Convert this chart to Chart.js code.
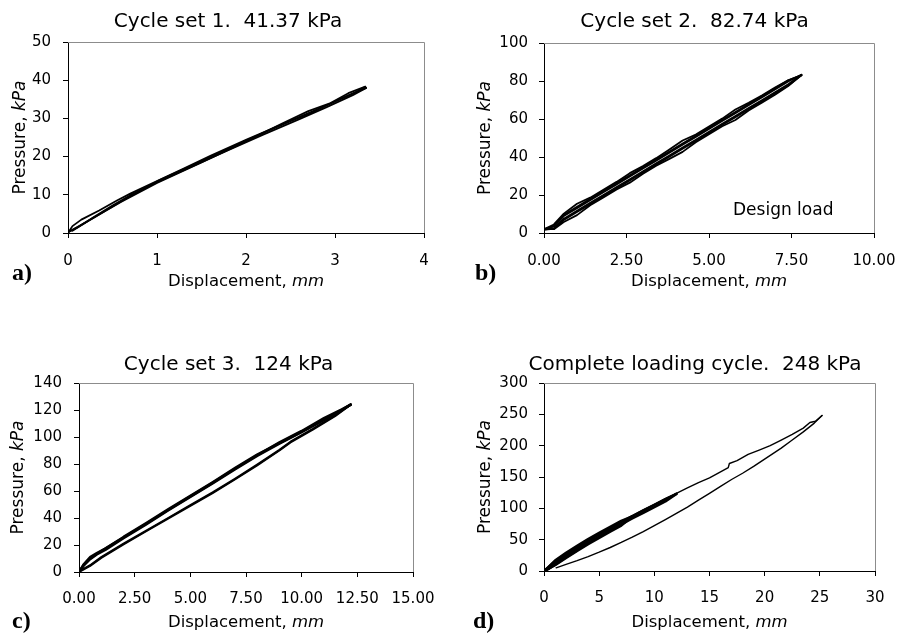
<!DOCTYPE html>
<html>
<head>
<meta charset="utf-8">
<title>Plate load test – pressure vs displacement</title>
<script src="https://cdn.jsdelivr.net/npm/chart.js@4.4.1/dist/chart.umd.min.js"></script>
<style>
  html, body { margin: 0; padding: 0; background: #fff; }
  body { width: 901px; height: 642px; position: relative; overflow: hidden; }
  canvas { position: absolute; }
</style>
</head>
<body>
<canvas id="panelA"></canvas>
<canvas id="panelB"></canvas>
<canvas id="panelC"></canvas>
<canvas id="panelD"></canvas>
<script>
// ---------------- Data: displacement (mm) and pressure (kPa) ----------------

// a) Cycle set 1, 41.37 kPa
const aLoad1Disp   = [0, 0.05, 0.15, 0.35, 0.55, 0.70, 1.00, 1.30, 1.60, 2.00, 2.40, 2.80, 3.10, 3.35];
const aLoad1Pres   = [0, 1.8, 3.5, 5.9, 8.5, 10.3, 13.6, 16.9, 20.2, 24.4, 28.4, 32.4, 35.4, 38.0];
const aUnload1Disp = [3.35, 3.20, 2.90, 2.60, 2.20, 1.80, 1.40, 1.00, 0.70, 0.50, 0.30, 0.10, 0.00];
const aUnload1Pres = [38.0, 36.1, 32.9, 29.8, 25.8, 21.7, 17.5, 13.3, 9.9, 7.2, 4.3, 1.4, 0.2];
const aLoad2Disp   = [0.00, 0.30, 0.60, 1.00, 1.50, 2.00, 2.50, 2.75, 3.00, 3.25, 3.34];
const aLoad2Pres   = [0.2, 4.1, 8.3, 13.5, 18.8, 24.2, 29.3, 31.6, 34.5, 37.1, 38.3];
const aUnload2Disp = [3.34, 3.15, 2.95, 2.70, 2.40, 2.00, 1.50, 1.00, 0.60, 0.30, 0.05];
const aUnload2Pres = [38.3, 36.6, 34.0, 31.9, 28.6, 24.0, 18.5, 13.1, 8.2, 4.2, 0.6];

// b) Cycle set 2, 82.74 kPa (design load)
const bLoadDisp    = [0.00, 0.30, 0.60, 1.00, 1.40, 1.80, 2.20, 2.60, 3.00, 3.40, 3.80, 4.20, 4.60, 5.00, 5.40, 5.80, 6.20, 6.60, 7.00, 7.40, 7.80];
const bUnloadDisp  = [7.80, 7.40, 7.00, 6.60, 6.20, 5.80, 5.40, 5.00, 4.60, 4.20, 3.80, 3.40, 3.00, 2.60, 2.20, 1.80, 1.40, 1.00, 0.60, 0.30, 0.00];
const bLoad1Pres   = [2.0, 4.5, 10.2, 15.4, 18.6, 22.7, 26.9, 31.5, 35.2, 39.4, 44.0, 48.7, 51.8, 56.0, 60.2, 65.0, 68.5, 72.4, 76.6, 80.4, 83.1];
const bUnload1Pres = [83.1, 77.4, 72.8, 68.6, 64.5, 59.5, 56.2, 52.0, 47.8, 42.7, 39.0, 35.4, 31.2, 26.5, 22.9, 18.7, 14.6, 9.4, 5.8, 2.0, 2.0];
const bLoad2Pres   = [2.0, 3.4, 8.9, 13.1, 17.3, 21.4, 25.6, 29.7, 33.9, 38.1, 42.2, 46.4, 50.5, 54.7, 58.9, 63.0, 67.2, 71.3, 75.5, 79.7, 83.3];
const bUnload2Pres = [83.3, 78.3, 74.1, 69.9, 65.8, 61.6, 57.5, 53.3, 49.1, 45.0, 40.8, 36.7, 32.5, 28.3, 24.2, 20.0, 15.9, 11.7, 7.5, 2.4, 1.8];
const bLoad3Pres   = [1.8, 3.8, 9.6, 13.8, 18.0, 22.1, 26.3, 30.4, 34.6, 38.8, 42.9, 47.1, 51.2, 55.4, 59.6, 63.7, 67.9, 72.0, 76.2, 80.4, 83.0];
const bUnload3Pres = [83.0, 77.6, 73.4, 69.2, 65.1, 60.9, 56.8, 52.6, 48.4, 44.3, 40.1, 36.0, 31.8, 27.6, 23.5, 19.3, 15.2, 11.0, 6.8, 2.2, 1.8];

// c) Cycle set 3, 124 kPa
const cLoadDisp    = [0, 0.2, 0.5, 0.8, 1.2, 2.0, 3.0, 4.0, 5.0, 6.0, 7.0, 8.0, 9.0, 10.0, 11.0, 11.8, 12.2];
const cLoad1Pres   = [0, 5.5, 11, 14, 17.5, 25.5, 35.5, 46, 56, 66, 76.5, 86.5, 96, 104.5, 114, 120.5, 124];
const cLoad2Pres   = [0, 5, 10, 13.5, 17.5, 26, 36, 46.5, 56.5, 66.5, 77, 87, 95.5, 104, 113, 120, 124];
const cLoad3Pres   = [0, 4.5, 9.5, 13, 16.5, 25, 35, 45.5, 55.5, 65.5, 76, 86, 95, 103.5, 112.5, 120, 124];
const cUnloadDisp  = [12.2, 11.5, 10.5, 9.5, 9.0, 8.0, 7.0, 6.0, 5.0, 4.0, 3.0, 2.0, 1.0, 0.5, 0];
const cUnload1Pres = [124, 115.5, 105.5, 96, 90, 79, 68.5, 58.5, 49, 39.5, 30, 20.5, 10.5, 4.5, 0];
const cUnload2Pres = [124, 116, 106, 96.5, 90.5, 79.5, 69, 59, 49.5, 40, 30.5, 21, 11, 5, 0.5];

// d) Complete loading cycle, 248 kPa
const dLoad1Disp    = [0, 0.4, 1.0, 2.0, 3.0, 3.8];
const dLoad1Pres    = [0, 6, 15.5, 27.5, 38.5, 45];
const dUnload1Disp  = [3.8, 3.0, 2.0, 1.0, 0.4, 0.1];
const dUnload1Pres  = [45, 33, 22, 10, 3.5, 1];
const dLoad2Disp    = [0.1, 1.0, 2.0, 3.0, 4.0, 5.0, 6.0, 7.0, 8.0];
const dLoad2Pres    = [1, 16.5, 29, 40, 51, 61, 70.5, 80, 87];
const dUnload2Disp  = [8.0, 7.0, 6.0, 5.0, 4.0, 3.0, 2.0, 1.0, 0.2];
const dUnload2Pres  = [87, 72.5, 63, 53, 43, 32, 21, 9.5, 2];
const dLoad3Disp    = [0.2, 1, 2, 3, 4, 5, 6, 7, 8, 9, 10, 11, 12];
const dLoad3Pres    = [2, 14.5, 26.5, 37.5, 48.5, 58.5, 68.5, 78, 87.5, 96.5, 105.5, 114.5, 123];
const dUnload3Disp  = [12, 11, 10, 9, 8, 7, 6, 5, 4, 3, 2, 1, 0.3];
const dUnload3Pres  = [123, 111, 102, 93, 84, 74.5, 65, 55, 45, 34, 23, 11, 2.5];
const dFinalLoadDisp   = [0.3, 1, 2, 3, 4, 5, 6, 7, 8, 9, 10, 11, 12, 13, 14, 15, 16, 16.7, 16.8, 17.5, 18.5, 19.5, 20.5, 21.5, 22.5, 23.5, 24.1, 24.6, 25.2];
const dFinalLoadPres   = [2.5, 13.5, 25.5, 37, 48, 58.5, 68.5, 78.5, 88, 97.5, 106.5, 115.5, 124, 132.5, 141, 148.5, 158, 165, 171.5, 176, 186, 193, 200, 209, 218, 228, 237, 239, 248];
const dFinalUnloadDisp = [25.2, 24.5, 23.5, 22.5, 21.5, 20.2, 19, 18, 17, 16, 15, 14, 13, 12, 11, 10, 9, 8, 7, 6, 5, 4, 3, 2, 1.1];
const dFinalUnloadPres = [248, 236, 222, 209, 196, 181, 167, 156, 146, 135, 124, 113, 102, 92, 82, 72.5, 63, 54, 45.5, 37.5, 30, 23, 16.5, 10.5, 5];

// ---------------- Axis ticks and labels ----------------
const aXTicks = [0, 1, 2, 3, 4];
const aXLabels = ['0', '1', '2', '3', '4'];
const aYTicks = [0, 10, 20, 30, 40, 50];
const bXTicks = [0, 2.5, 5, 7.5, 10];
const bXLabels = ['0.00', '2.50', '5.00', '7.50', '10.00'];
const bYTicks = [0, 20, 40, 60, 80, 100];
const cXTicks = [0, 2.5, 5, 7.5, 10, 12.5, 15];
const cXLabels = ['0.00', '2.50', '5.00', '7.50', '10.00', '12.50', '15.00'];
const cYTicks = [0, 20, 40, 60, 80, 100, 120, 140];
const dXTicks = [0, 5, 10, 15, 20, 25, 30];
const dXLabels = ['0', '5', '10', '15', '20', '25', '30'];
const dYTicks = [0, 50, 100, 150, 200, 250, 300];

// ---------------- Text ----------------
const titles = {
  a: 'Cycle set 1.  41.37 kPa',
  b: 'Cycle set 2.  82.74 kPa',
  c: 'Cycle set 3.  124 kPa',
  d: 'Complete loading cycle.  248 kPa'
};
const xAxisTitle = [['Displacement, ', false], ['mm', true]];
const yAxisTitle = [['Pressure, ', false], ['kPa', true]];
const designNote = 'Design load';

// ---------------- Layout (page pixels) ----------------
const layoutA = { canvas: [0, 0, 450, 321],   area: [68, 42, 424, 233],  titleAt: [228, 27],  xTitleY: 286, yTitleX: 25,  letterAt: [12, 280],  xPad: 14, yPad: 12 };
const layoutB = { canvas: [450, 0, 451, 321], area: [544, 43, 874, 233], titleAt: [694.5, 27], xTitleY: 286, yTitleX: 490, letterAt: [475, 280], xPad: 14, yPad: 11, noteAt: [733, 215] };
const layoutC = { canvas: [0, 321, 450, 321], area: [79, 383, 413, 572], titleAt: [228.5, 370], xTitleY: 627, yTitleX: 23, letterAt: [12, 628], xPad: 13, yPad: 12 };
const layoutD = { canvas: [450, 321, 451, 321], area: [544, 383, 875, 571], titleAt: [695, 370], xTitleY: 627, yTitleX: 490, letterAt: [473, 628], xPad: 13, yPad: 11 };

const INK = '#000';
const FONT = '"DejaVu Sans"';
Chart.defaults.font.family = FONT;
Chart.defaults.color = INK;

function series(disp, pres, width) {
  return {
    data: disp.map((x, i) => ({ x: x, y: pres[i] })),
    showLine: true,
    borderColor: INK,
    borderWidth: width,
    borderJoinStyle: 'round',
    borderCapStyle: 'round',
    pointRadius: 0,
    pointHoverRadius: 0,
    tension: 0,
    fill: false
  };
}

// draws a run of text pieces (some italic) centred on cx
function drawRich(ctx, parts, cx, y, size) {
  const fonts = parts.map(p => (p[1] ? 'italic ' : '') + size + 'px ' + FONT);
  const widths = parts.map((p, i) => { ctx.font = fonts[i]; return ctx.measureText(p[0]).width; });
  let x = cx - widths.reduce((s, w) => s + w, 0) / 2;
  ctx.textAlign = 'left';
  parts.forEach((p, i) => { ctx.font = fonts[i]; ctx.fillText(p[0], x, y); x += widths[i]; });
}

// frame, titles, axis titles and panel letter
const panelDecor = {
  id: 'panelDecor',
  afterDraw(chart, args, o) {
    const { ctx, chartArea: ca } = chart;
    ctx.save();
    ctx.strokeStyle = '#8c8c8c';
    ctx.lineWidth = 1;
    ctx.beginPath();
    ctx.moveTo(ca.left, ca.top + 0.5);
    ctx.lineTo(ca.right + 0.5, ca.top + 0.5);
    ctx.lineTo(ca.right + 0.5, ca.bottom);
    ctx.stroke();

    ctx.fillStyle = INK;
    ctx.textBaseline = 'alphabetic';
    ctx.font = '20px ' + FONT;
    ctx.textAlign = 'center';
    ctx.fillText(o.title, o.titleAt[0], o.titleAt[1]);

    drawRich(ctx, xAxisTitle, (ca.left + ca.right) / 2, o.xTitleY, 16.5);

    ctx.save();
    ctx.translate(o.yTitleX, (ca.top + ca.bottom) / 2);
    ctx.rotate(-Math.PI / 2);
    drawRich(ctx, yAxisTitle, 0, 0, 17);
    ctx.restore();

    ctx.font = 'bold 24px "Liberation Serif"';
    ctx.textAlign = 'left';
    ctx.fillText(o.letter, o.letterAt[0], o.letterAt[1]);

    if (o.note) {
      ctx.font = '17px ' + FONT;
      ctx.fillText(o.note, o.noteAt[0], o.noteAt[1]);
    }
    ctx.restore();
  }
};

function makePanel(canvasId, letter, lay, datasets, xr, yr) {
  const [ox, oy, w, h] = lay.canvas;
  const [L, T, R, B] = lay.area;
  const el = document.getElementById(canvasId);
  el.width = w; el.height = h;
  el.style.left = ox + 'px'; el.style.top = oy + 'px';
  el.style.width = w + 'px'; el.style.height = h + 'px';
  // the axes take the whole strip left of / below the plot area so their labels are never clipped
  const yW = L - ox, xH = (oy + h) - B;
  const tickFont = { family: FONT, size: 15 };
  const axisCommon = {
    type: 'linear',
    grid: { drawOnChartArea: false, drawTicks: true, tickLength: 5, color: INK, tickColor: INK, lineWidth: 1 },
    border: { display: true, color: INK, width: 1 }
  };
  return new Chart(el, {
    type: 'scatter',
    data: { datasets: datasets },
    options: {
      responsive: false,
      maintainAspectRatio: false,
      animation: false,
      devicePixelRatio: 1,
      events: [],
      layout: { padding: { left: 0, top: T - oy, right: (ox + w) - R, bottom: 0 } },
      plugins: {
        legend: { display: false },
        title: { display: false },
        tooltip: { enabled: false },
        panelDecor: {
          title: titles[letter],
          titleAt: [lay.titleAt[0] - ox, lay.titleAt[1] - oy],
          xTitleY: lay.xTitleY - oy,
          yTitleX: lay.yTitleX - ox,
          letter: letter + ')',
          letterAt: [lay.letterAt[0] - ox, lay.letterAt[1] - oy],
          note: lay.noteAt ? designNote : null,
          noteAt: lay.noteAt ? [lay.noteAt[0] - ox, lay.noteAt[1] - oy] : null
        }
      },
      scales: {
        x: Object.assign({}, axisCommon, {
          position: 'bottom',
          min: xr.ticks[0], max: xr.ticks[xr.ticks.length - 1],
          afterBuildTicks: s => { s.ticks = xr.ticks.map(v => ({ value: v })); },
          afterFit: s => { s.height = xH; s.paddingLeft = 0; s.paddingRight = 0; },
          ticks: { font: tickFont, color: INK, padding: lay.xPad, autoSkip: false, maxRotation: 0,
                   callback: (v, i) => xr.labels[i] }
        }),
        y: Object.assign({}, axisCommon, {
          position: 'left',
          min: yr.ticks[0], max: yr.ticks[yr.ticks.length - 1],
          afterBuildTicks: s => { s.ticks = yr.ticks.map(v => ({ value: v })); },
          afterFit: s => { s.width = yW; s.paddingTop = 0; s.paddingBottom = 0; },
          ticks: { font: tickFont, color: INK, padding: lay.yPad, autoSkip: false,
                   callback: (v, i) => String(yr.ticks[i]) }
        })
      }
    },
    plugins: [panelDecor]
  });
}

makePanel('panelA', 'a', layoutA, [
  series(aLoad1Disp, aLoad1Pres, 1.8),
  series(aUnload1Disp, aUnload1Pres, 1.8),
  series(aLoad2Disp, aLoad2Pres, 1.8),
  series(aUnload2Disp, aUnload2Pres, 1.8)
], { ticks: aXTicks, labels: aXLabels }, { ticks: aYTicks });

makePanel('panelB', 'b', layoutB, [
  series(bLoadDisp, bLoad1Pres, 1.8),
  series(bUnloadDisp, bUnload1Pres, 1.8),
  series(bLoadDisp, bLoad2Pres, 1.8),
  series(bUnloadDisp, bUnload2Pres, 1.8),
  series(bLoadDisp, bLoad3Pres, 1.8),
  series(bUnloadDisp, bUnload3Pres, 1.8)
], { ticks: bXTicks, labels: bXLabels }, { ticks: bYTicks });

makePanel('panelC', 'c', layoutC, [
  series(cLoadDisp, cLoad1Pres, 2.4),
  series(cLoadDisp, cLoad2Pres, 2.4),
  series(cLoadDisp, cLoad3Pres, 2.4),
  series(cUnloadDisp, cUnload1Pres, 2),
  series(cUnloadDisp, cUnload2Pres, 2)
], { ticks: cXTicks, labels: cXLabels }, { ticks: cYTicks });

makePanel('panelD', 'd', layoutD, [
  series(dLoad1Disp, dLoad1Pres, 2.6),
  series(dUnload1Disp, dUnload1Pres, 2.6),
  series(dLoad2Disp, dLoad2Pres, 2.6),
  series(dUnload2Disp, dUnload2Pres, 2.6),
  series(dLoad3Disp, dLoad3Pres, 2.6),
  series(dUnload3Disp, dUnload3Pres, 2.6),
  series(dFinalLoadDisp, dFinalLoadPres, 1.4),
  series(dFinalUnloadDisp, dFinalUnloadPres, 1.4)
], { ticks: dXTicks, labels: dXLabels }, { ticks: dYTicks });
</script>
</body>
</html>
